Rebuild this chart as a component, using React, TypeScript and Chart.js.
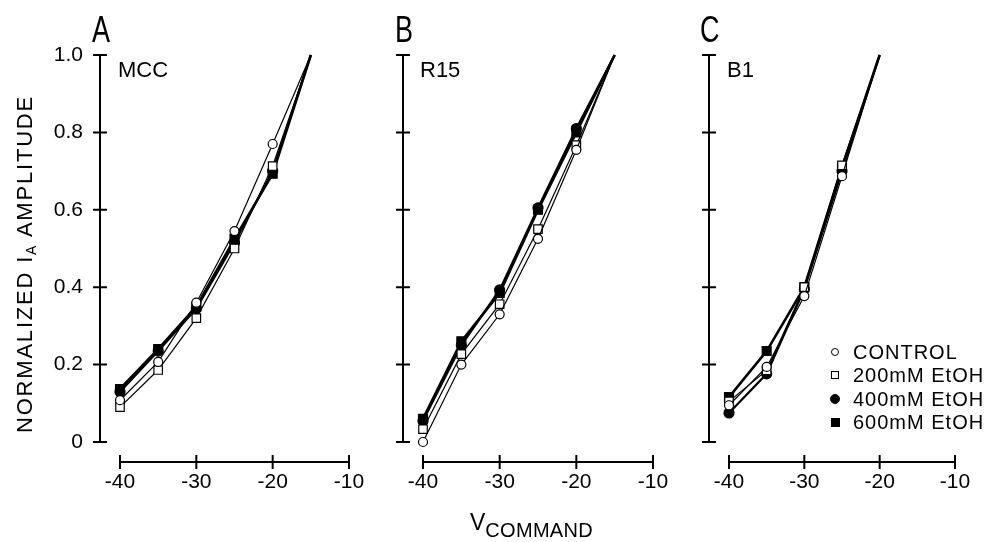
import React, { useEffect, useRef } from "react";
import { Chart, registerables } from "chart.js";

Chart.register(...registerables);

const FONT = "'Liberation Sans', Arial, Helvetica, sans-serif";

// ---------- data ----------
const panelLetters = ["A", "B", "C"];
const cellNames = ["MCC", "R15", "B1"];
const seriesNames = ["CONTROL", "200mM EtOH", "400mM EtOH", "600mM EtOH"];
const xTickValues = [-40, -30, -20, -10];
const yTickValues = [0, 0.2, 0.4, 0.6, 0.8, 1.0];

const voltagesA = [-40, -35, -30, -25, -20, -15];
const voltagesB = [-40, -35, -30, -25, -20, -15];
const voltagesC = [-40, -35, -30, -25, -20];

const mccControl = [0.108, 0.207, 0.36, 0.545, 0.77, 1.0];
const mcc200 = [0.09, 0.186, 0.32, 0.5, 0.713, 1.0];
const mcc400 = [0.13, 0.235, 0.345, 0.515, 0.7, 1.0];
const mcc600 = [0.137, 0.24, 0.35, 0.525, 0.693, 1.0];

const r15Control = [0.0, 0.2, 0.33, 0.525, 0.755, 1.0];
const r15_200 = [0.033, 0.227, 0.356, 0.55, 0.767, 1.0];
const r15_400 = [0.055, 0.25, 0.393, 0.605, 0.81, 1.0];
const r15_600 = [0.06, 0.26, 0.385, 0.6, 0.8, 1.0];

const b1Control = [0.095, 0.194, 0.377, 0.687, 1.0];
const b1_200 = [0.105, 0.185, 0.4, 0.715, 1.0];
const b1_400 = [0.075, 0.176, 0.395, 0.7, 1.0];
const b1_600 = [0.116, 0.235, 0.4, 0.71, 1.0];

// ---------- styles ----------
const SERIES_STYLE = [
  { shape: "circle", fill: false, r: 4.5, lw: 1.2 },
  { shape: "rect", fill: false, r: 6, lw: 1.2 },
  { shape: "circle", fill: true, r: 5, lw: 2.2 },
  { shape: "rect", fill: true, r: 6.3, lw: 2.6 },
];

const PAGE_H = 542;
const PLOT_TOP = 55;
const PLOT_BOTTOM = 442;
const AXIS_GAP = 20;
const TICK_HALF = 7;

const axesPlugin = {
  id: "panelAxes",
  beforeDatasetsDraw(chart: any) {
    const { ctx, chartArea, scales } = chart;
    const x = scales.x;
    const y = scales.y;
    const ax = chartArea.left - AXIS_GAP;
    const ay = chartArea.bottom + AXIS_GAP;
    ctx.save();
    ctx.strokeStyle = "#000";
    ctx.lineWidth = 2;
    ctx.lineCap = "butt";
    ctx.beginPath();
    const y0 = y.getPixelForValue(yTickValues[0]);
    const y1 = y.getPixelForValue(yTickValues[yTickValues.length - 1]);
    ctx.moveTo(ax, y0 + 1);
    ctx.lineTo(ax, y1 - 1);
    yTickValues.forEach((t) => {
      const py = y.getPixelForValue(t);
      ctx.moveTo(ax - TICK_HALF, py);
      ctx.lineTo(ax + TICK_HALF, py);
    });
    const x0 = x.getPixelForValue(xTickValues[0]);
    const x1 = x.getPixelForValue(xTickValues[xTickValues.length - 1]);
    ctx.moveTo(x0 - 1, ay);
    ctx.lineTo(x1 + 1, ay);
    xTickValues.forEach((t) => {
      const px = x.getPixelForValue(t);
      ctx.moveTo(px, ay - TICK_HALF);
      ctx.lineTo(px, ay + TICK_HALF);
    });
    ctx.stroke();
    ctx.restore();
  },
};

type PanelProps = {
  left: number;
  width: number;
  plotLeft: number;
  plotRight: number;
  voltages: number[];
  series: number[][];
  showYLabels: boolean;
};

function Panel({ left, width, plotLeft, plotRight, voltages, series, showYLabels }: PanelProps) {
  const ref = useRef<HTMLCanvasElement | null>(null);
  useEffect(() => {
    if (!ref.current) return;
    const chart = new Chart(ref.current, {
      type: "line",
      data: {
        datasets: series.map((vals, i) => {
          const st = SERIES_STYLE[i];
          return {
            label: seriesNames[i],
            data: vals.map((v, j) => ({ x: voltages[j], y: v })),
            borderColor: "#000",
            borderWidth: st.lw,
            pointStyle: st.shape,
            pointRadius: (c: any) => (c.dataIndex === vals.length - 1 ? 0 : st.r),
            pointBackgroundColor: st.fill ? "#000" : "#fff",
            pointBorderColor: "#000",
            pointBorderWidth: 1.2,
            tension: 0,
            fill: false,
            clip: false,
          } as any;
        }),
      },
      options: {
        animation: false,
        responsive: false,
        maintainAspectRatio: false,
        events: [],
        layout: {
          padding: { left: 0, right: width - plotRight, top: PLOT_TOP, bottom: 0 },
        },
        plugins: {
          legend: { display: false },
          tooltip: { enabled: false },
        },
        scales: {
          x: {
            type: "linear",
            min: -40,
            max: -10,
            afterFit: (s: any) => {
              s.height = PAGE_H - PLOT_BOTTOM;
            },
            afterBuildTicks: (s: any) => {
              s.ticks = xTickValues.map((v) => ({ value: v }));
            },
            grid: { display: false, drawTicks: false },
            border: { display: false },
            ticks: {
              padding: 28,
              color: "#000",
              maxRotation: 0,
              autoSkip: false,
              font: { family: FONT, size: 21 },
            },
          },
          y: {
            type: "linear",
            min: 0,
            max: 1,
            afterFit: (s: any) => {
              s.width = plotLeft;
            },
            afterBuildTicks: (s: any) => {
              s.ticks = yTickValues.map((v) => ({ value: v }));
            },
            grid: { display: false, drawTicks: false },
            border: { display: false },
            ticks: {
              display: showYLabels,
              padding: 37,
              color: "#000",
              autoSkip: false,
              font: { family: FONT, size: 21 },
              callback: (v: any) => (Number(v) === 0 ? "0" : Number(v).toFixed(1)),
            },
          },
        },
      } as any,
      plugins: [axesPlugin],
    });
    return () => chart.destroy();
  }, []);
  return (
    <canvas
      ref={ref}
      width={width}
      height={PAGE_H}
      style={{ position: "absolute", left, top: 0, width, height: PAGE_H }}
    />
  );
}

function Txt({ x, y, size, children, style }: any) {
  // y is baseline
  return (
    <div
      style={{
        position: "absolute",
        left: x,
        top: y - 0.8465 * size,
        fontSize: size,
        lineHeight: 1,
        fontFamily: FONT,
        whiteSpace: "nowrap",
        color: "#000",
        ...style,
      }}
    >
      {children}
    </div>
  );
}

const PANELS = [
  { left: 0, width: 410, plotLeft: 120, plotRight: 349, voltages: voltagesA, series: [mccControl, mcc200, mcc400, mcc600], showY: true, letterX: 92, nameX: 118 },
  { left: 300, width: 410, plotLeft: 123, plotRight: 653, voltages: voltagesB, series: [r15Control, r15_200, r15_400, r15_600], showY: false, letterX: 395, nameX: 420 },
  { left: 610, width: 410, plotLeft: 119, plotRight: 955, voltages: voltagesC, series: [b1Control, b1_200, b1_400, b1_600], showY: false, letterX: 700, nameX: 727 },
];

function LegendMarker({ i }: { i: number }) {
  const st = SERIES_STYLE[i];
  const size = st.shape === "circle" ? (st.fill ? 10 : 8) : st.fill ? 9 : 8;
  return (
    <span
      style={{
        position: "absolute",
        left: -size / 2,
        top: -size / 2,
        width: size,
        height: size,
        boxSizing: "border-box",
        border: "1.2px solid #000",
        borderRadius: st.shape === "circle" ? "50%" : 0,
        background: st.fill ? "#000" : "#fff",
      }}
    />
  );
}

const LEGEND_ROWS_Y = [352, 375, 399, 422];

export default function App() {
  return (
    <div style={{ position: "absolute", left: 0, top: 0, width: 995, height: 542, background: "#fff", overflow: "hidden" }}>
      {PANELS.map((p, k) => (
        <Panel
          key={k}
          left={p.left}
          width={p.width}
          plotLeft={p.plotLeft}
          plotRight={p.plotRight - p.left}
          voltages={p.voltages}
          series={p.series}
          showYLabels={p.showY}
        />
      ))}
      {PANELS.map((p, k) => (
        <Txt key={"l" + k} x={p.letterX} y={42} size={36} style={{ transform: "scaleX(0.75)", transformOrigin: "left top" }}>
          {panelLetters[k]}
        </Txt>
      ))}
      {PANELS.map((p, k) => (
        <Txt key={"n" + k} x={p.nameX} y={78} size={22}>
          {cellNames[k]}
        </Txt>
      ))}
      {/* y-axis title */}
      <div
        style={{
          position: "absolute",
          left: 25 - 180,
          top: 264 - 11,
          width: 360,
          height: 22,
          lineHeight: "22px",
          fontSize: 22,
          fontFamily: FONT,
          textAlign: "center",
          letterSpacing: 1.8,
          whiteSpace: "nowrap",
          transform: "rotate(-90deg)",
          color: "#000",
        }}
      >
        NORMALIZED I<span style={{ fontSize: 14, verticalAlign: -4 }}>A</span> AMPLITUDE
      </div>
      {/* x-axis title */}
      <Txt x={470} y={530} size={23}>
        V<span style={{ fontSize: 20, position: "relative", top: 7, letterSpacing: 0.3 }}>COMMAND</span>
      </Txt>
      {/* legend */}
      {seriesNames.map((name, i) => (
        <div key={"g" + i}>
          <div style={{ position: "absolute", left: 835, top: LEGEND_ROWS_Y[i] }}>
            <LegendMarker i={i} />
          </div>
          <Txt x={853} y={LEGEND_ROWS_Y[i] + 7} size={20} style={{ letterSpacing: 1 }}>
            {name}
          </Txt>
        </div>
      ))}
    </div>
  );
}
